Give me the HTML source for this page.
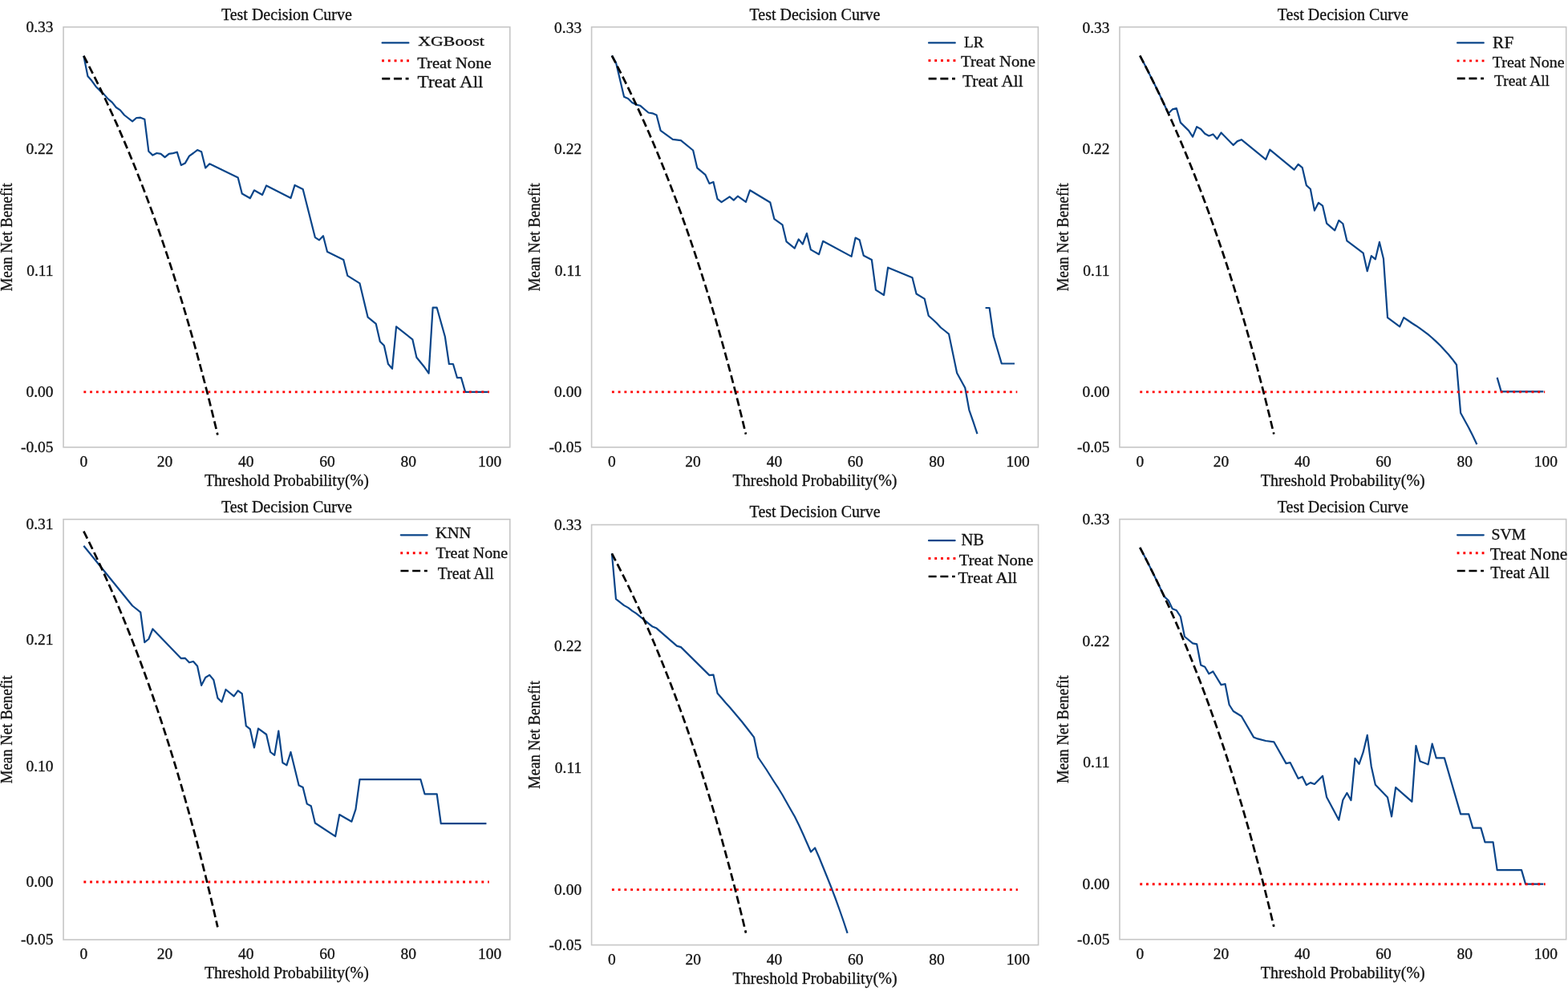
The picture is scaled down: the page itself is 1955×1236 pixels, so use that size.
<!DOCTYPE html>
<html><head><meta charset="utf-8"><title>Test Decision Curves</title>
<style>
html,body{margin:0;padding:0;background:#fff;}
svg{display:block;}
.t{font-family:'Liberation Serif', 'Times New Roman', serif;font-size:20px;fill:#111;stroke:#111;stroke-width:0.3px;}
.l{font-family:'Liberation Serif', 'Times New Roman', serif;fill:#111;stroke:#111;stroke-width:0.3px;}
.tk{font-size:19.5px;}
.bl{fill:none;stroke:#0a4589;stroke-width:2.2;stroke-linejoin:round;}
.rd{stroke:#ff0000;stroke-width:2.9;stroke-dasharray:2.9 4.85;fill:none;}
.bk{fill:none;stroke:#000;stroke-width:2.7;stroke-dasharray:10.0 4.7;}
</style></head>
<body>
<svg width="1955" height="1236" viewBox="0 0 1955 1236">
<rect width="1955" height="1236" fill="#fff"/>
<rect x="79.05" y="33.7" width="556.75" height="524.10" fill="none" stroke="#c6c6c6" stroke-width="1.6"/>
<polyline points="104.36,69.70 109.42,95.00 114.48,100.80 119.54,107.90 124.60,113.10 129.66,117.60 134.72,123.40 139.79,127.60 144.85,134.00 149.91,137.40 154.97,143.50 165.09,151.30 170.15,147.00 175.22,146.70 180.28,148.70 185.34,188.80 190.40,193.60 195.46,191.00 200.52,191.80 205.58,196.20 210.65,191.80 215.71,191.10 220.77,189.70 225.83,206.00 230.89,203.40 235.95,194.60 241.01,191.00 246.07,187.10 251.14,189.20 256.20,209.50 261.26,204.30 296.69,221.40 301.75,241.50 311.87,247.30 316.93,237.30 327.06,243.00 332.12,231.40 362.49,247.10 367.55,230.90 377.67,235.90 392.85,296.10 397.92,299.40 402.98,294.20 408.04,314.00 428.28,323.90 433.35,343.90 448.53,353.40 458.65,395.70 468.77,403.90 473.84,425.90 478.90,431.10 483.96,454.00 489.02,459.80 494.08,407.40 514.33,423.30 519.39,445.80 529.51,458.30 534.57,465.60 539.63,383.70 544.70,383.70 554.82,419.70 559.88,454.00 564.94,454.00 570.00,471.20 575.06,471.20 580.12,488.90 608.47,488.90" class="bl"/>
<line x1="104.36" y1="488.85" x2="610.0" y2="488.85" class="rd"/>
<polyline points="104.36,69.70 109.42,79.40 114.48,89.29 119.54,99.39 124.60,109.69 129.66,120.22 134.72,130.97 139.79,141.95 144.85,153.17 149.91,164.63 154.97,176.35 160.03,188.33 165.09,200.59 170.15,213.13 175.22,225.95 180.28,239.09 185.34,252.53 190.40,266.30 195.46,280.40 200.52,294.85 205.58,309.66 210.65,324.85 215.71,340.43 220.77,356.41 225.83,372.81 230.89,389.65 235.95,406.94 241.01,424.71 246.07,442.97 251.14,461.75 256.20,481.06 261.26,500.94 266.32,521.39 271.38,542.46" class="bk"/>
<text x="66.6" y="40.2" text-anchor="end" class="t tk">0.33</text>
<text x="66.6" y="191.9" text-anchor="end" class="t tk">0.22</text>
<text x="66.6" y="343.6" text-anchor="end" class="t tk">0.11</text>
<text x="66.6" y="495.2" text-anchor="end" class="t tk">0.00</text>
<text x="66.6" y="564.2" text-anchor="end" class="t tk">-0.05</text>
<text x="104.4" y="581.9" text-anchor="middle" class="t tk">0</text>
<text x="205.6" y="581.9" text-anchor="middle" class="t tk">20</text>
<text x="306.8" y="581.9" text-anchor="middle" class="t tk">40</text>
<text x="408.0" y="581.9" text-anchor="middle" class="t tk">60</text>
<text x="509.3" y="581.9" text-anchor="middle" class="t tk">80</text>
<text x="610.5" y="581.9" text-anchor="middle" class="t tk">100</text>
<text x="357.4" y="24.6" text-anchor="middle" class="t">Test Decision Curve</text>
<text x="357.4" y="605.7" text-anchor="middle" class="t">Threshold Probability(%)</text>
<text transform="translate(14.8,295.8) rotate(-90)" text-anchor="middle" class="t" font-size="19" textLength="134.8" lengthAdjust="spacingAndGlyphs">Mean Net Benefit</text>
<line x1="476.60" y1="53.4" x2="509.40" y2="53.4" class="bl" stroke-linecap="round"/>
<line x1="476.10" y1="75.7" x2="510.20" y2="75.7" class="rd"/>
<line x1="476.25" y1="98.1" x2="509.55" y2="98.1" class="bk" stroke-dasharray="10.4 5"/>
<text x="521.3" y="56.6" font-size="16.8" textLength="82.5" lengthAdjust="spacingAndGlyphs" class="l">XGBoost</text>
<text x="520.2" y="84.7" font-size="19.5" textLength="92.4" lengthAdjust="spacingAndGlyphs" class="l">Treat None</text>
<text x="520.6" y="109.1" font-size="21" textLength="81.9" lengthAdjust="spacingAndGlyphs" class="l">Treat All</text>
<rect x="737.6" y="33.7" width="556.80" height="524.10" fill="none" stroke="#c6c6c6" stroke-width="1.6"/>
<polyline points="762.91,69.30 767.97,78.10 778.09,120.80 783.16,123.00 788.22,128.00 793.28,130.60 798.34,131.80 808.47,140.50 813.53,141.30 818.59,143.50 823.65,162.90 838.84,173.90 848.96,175.20 864.15,187.50 869.21,209.30 879.33,217.80 884.39,228.90 889.45,226.90 894.52,248.20 899.58,252.20 909.70,245.40 914.76,249.60 919.83,244.70 929.95,251.80 935.01,237.30 960.32,252.50 965.38,273.20 975.51,280.30 980.57,301.40 990.69,309.70 995.75,298.40 1000.81,304.50 1005.88,291.10 1010.94,311.40 1021.06,317.20 1026.12,300.80 1061.56,319.90 1066.62,296.60 1071.68,299.20 1076.74,318.80 1086.87,324.00 1091.93,361.60 1102.05,368.00 1107.11,333.70 1137.48,346.30 1142.55,366.50 1152.67,372.60 1157.73,393.70 1162.79,398.30 1167.85,403.00 1172.92,408.50 1177.98,412.50 1183.04,416.60 1193.16,465.20 1203.29,483.80 1208.35,511.30 1213.41,525.90 1218.47,541.20" class="bl"/>
<polyline points="1228.60,384.00 1233.66,384.00 1238.72,419.10 1248.84,453.50 1265.04,453.50" class="bl"/>
<line x1="762.91" y1="488.9" x2="1268.3" y2="488.9" class="rd"/>
<polyline points="762.91,69.50 767.97,79.18 773.03,89.06 778.09,99.15 783.16,109.44 788.22,119.95 793.28,130.69 798.34,141.65 803.40,152.86 808.47,164.31 813.53,176.01 818.59,187.98 823.65,200.22 828.71,212.74 833.77,225.55 838.84,238.66 843.90,252.09 848.96,265.84 854.02,279.92 859.08,294.36 864.15,309.15 869.21,324.32 874.27,339.87 879.33,355.84 884.39,372.22 889.45,389.03 894.52,406.31 899.58,424.05 904.64,442.29 909.70,461.04 914.76,480.33 919.83,500.18 924.89,520.61 929.95,541.65" class="bk"/>
<text x="725.2" y="40.6" text-anchor="end" class="t tk">0.33</text>
<text x="725.2" y="192.1" text-anchor="end" class="t tk">0.22</text>
<text x="725.2" y="343.7" text-anchor="end" class="t tk">0.11</text>
<text x="725.2" y="495.3" text-anchor="end" class="t tk">0.00</text>
<text x="725.2" y="564.2" text-anchor="end" class="t tk">-0.05</text>
<text x="762.9" y="581.9" text-anchor="middle" class="t tk">0</text>
<text x="864.1" y="581.9" text-anchor="middle" class="t tk">20</text>
<text x="965.4" y="581.9" text-anchor="middle" class="t tk">40</text>
<text x="1066.6" y="581.9" text-anchor="middle" class="t tk">60</text>
<text x="1167.9" y="581.9" text-anchor="middle" class="t tk">80</text>
<text x="1269.1" y="581.9" text-anchor="middle" class="t tk">100</text>
<text x="1016.0" y="24.6" text-anchor="middle" class="t">Test Decision Curve</text>
<text x="1016.0" y="605.7" text-anchor="middle" class="t">Threshold Probability(%)</text>
<text transform="translate(673.4,295.8) rotate(-90)" text-anchor="middle" class="t" font-size="19" textLength="134.8" lengthAdjust="spacingAndGlyphs">Mean Net Benefit</text>
<line x1="1158.00" y1="53.4" x2="1190.80" y2="53.4" class="bl" stroke-linecap="round"/>
<line x1="1157.50" y1="75.5" x2="1191.60" y2="75.5" class="rd"/>
<line x1="1157.65" y1="98.1" x2="1190.95" y2="98.1" class="bk" stroke-dasharray="10.4 5"/>
<text x="1202.1" y="58.8" font-size="18.0" textLength="24.6" lengthAdjust="spacingAndGlyphs" class="l">LR</text>
<text x="1198.0" y="82.7" font-size="19.4" textLength="92.9" lengthAdjust="spacingAndGlyphs" class="l">Treat None</text>
<text x="1200.0" y="107.7" font-size="20.3" textLength="75.7" lengthAdjust="spacingAndGlyphs" class="l">Treat All</text>
<rect x="1396.0" y="33.7" width="556.70" height="524.10" fill="none" stroke="#c6c6c6" stroke-width="1.6"/>
<polyline points="1421.30,69.40 1426.37,79.08 1431.43,88.96 1436.49,99.04 1441.55,109.34 1446.61,119.85 1451.67,130.58 1456.73,141.55 1461.79,136.40 1466.85,135.10 1471.91,152.90 1482.04,162.90 1487.10,170.70 1492.16,158.10 1497.22,161.00 1502.28,166.80 1507.34,169.40 1512.40,167.40 1517.46,173.30 1522.52,165.50 1537.71,181.00 1542.77,176.10 1547.83,174.20 1578.19,198.80 1583.25,186.60 1613.62,211.70 1618.68,204.90 1623.74,209.10 1628.80,231.10 1633.86,235.70 1638.92,262.60 1643.98,252.80 1649.05,256.60 1654.11,278.60 1664.23,287.40 1669.29,274.90 1674.35,279.00 1679.41,300.40 1699.65,315.60 1704.72,338.20 1709.78,319.20 1714.84,323.30 1719.90,301.90 1724.96,322.70 1730.02,396.10 1745.20,407.40 1750.26,396.10 1755.32,399.50 1760.39,403.00 1765.45,406.20 1770.51,409.70 1775.57,413.30 1780.63,417.20 1785.69,421.50 1790.75,426.10 1795.81,431.00 1800.87,436.40 1805.93,442.00 1810.99,448.20 1816.06,455.00 1821.12,515.00 1826.18,524.30 1831.24,533.50 1836.30,543.50 1841.36,554.30" class="bl"/>
<polyline points="1866.66,470.90 1871.73,488.40 1924.36,488.40" class="bl"/>
<line x1="1421.30" y1="488.9" x2="1926.2" y2="488.9" class="rd"/>
<polyline points="1421.30,69.40 1426.37,79.08 1431.43,88.96 1436.49,99.04 1441.55,109.34 1446.61,119.85 1451.67,130.58 1456.73,141.55 1461.79,152.75 1466.85,164.20 1471.91,175.90 1476.97,187.87 1482.04,200.10 1487.10,212.62 1492.16,225.43 1497.22,238.55 1502.28,251.97 1507.34,265.72 1512.40,279.80 1517.46,294.23 1522.52,309.02 1527.58,324.19 1532.64,339.75 1537.71,355.71 1542.77,372.08 1547.83,388.90 1552.89,406.17 1557.95,423.91 1563.01,442.15 1568.07,460.90 1573.13,480.19 1578.19,500.03 1583.25,520.46 1588.31,541.50" class="bk"/>
<text x="1383.6" y="40.6" text-anchor="end" class="t tk">0.33</text>
<text x="1383.6" y="192.1" text-anchor="end" class="t tk">0.22</text>
<text x="1383.6" y="343.7" text-anchor="end" class="t tk">0.11</text>
<text x="1383.6" y="495.3" text-anchor="end" class="t tk">0.00</text>
<text x="1383.6" y="564.2" text-anchor="end" class="t tk">-0.05</text>
<text x="1421.3" y="581.9" text-anchor="middle" class="t tk">0</text>
<text x="1522.5" y="581.9" text-anchor="middle" class="t tk">20</text>
<text x="1623.7" y="581.9" text-anchor="middle" class="t tk">40</text>
<text x="1725.0" y="581.9" text-anchor="middle" class="t tk">60</text>
<text x="1826.2" y="581.9" text-anchor="middle" class="t tk">80</text>
<text x="1927.4" y="581.9" text-anchor="middle" class="t tk">100</text>
<text x="1674.3" y="24.6" text-anchor="middle" class="t">Test Decision Curve</text>
<text x="1674.3" y="605.7" text-anchor="middle" class="t">Threshold Probability(%)</text>
<text transform="translate(1331.8,295.8) rotate(-90)" text-anchor="middle" class="t" font-size="19" textLength="134.8" lengthAdjust="spacingAndGlyphs">Mean Net Benefit</text>
<line x1="1817.10" y1="53.4" x2="1849.80" y2="53.4" class="bl" stroke-linecap="round"/>
<line x1="1816.60" y1="75.9" x2="1850.60" y2="75.9" class="rd"/>
<line x1="1816.75" y1="97.9" x2="1849.95" y2="97.9" class="bk" stroke-dasharray="10.4 5"/>
<text x="1861.1" y="59.5" font-size="20.0" textLength="26.2" lengthAdjust="spacingAndGlyphs" class="l">RF</text>
<text x="1860.7" y="83.8" font-size="19.1" textLength="89.9" lengthAdjust="spacingAndGlyphs" class="l">Treat None</text>
<text x="1863.0" y="106.7" font-size="19.2" textLength="69.0" lengthAdjust="spacingAndGlyphs" class="l">Treat All</text>
<rect x="79.05" y="647.7" width="556.75" height="524.30" fill="none" stroke="#c6c6c6" stroke-width="1.6"/>
<polyline points="104.36,680.70 165.09,755.50 175.22,763.60 180.28,801.10 185.34,797.00 190.40,784.50 225.83,821.20 230.89,820.90 235.95,826.30 241.01,825.00 246.07,830.70 251.14,854.80 256.20,845.00 261.26,841.90 266.32,848.00 271.38,870.60 276.44,875.50 281.50,860.00 291.63,868.30 296.69,861.30 301.75,865.20 306.81,905.30 311.87,909.40 316.93,932.50 322.00,908.70 332.12,916.00 337.18,938.00 342.24,941.90 347.30,911.70 352.36,951.20 357.43,954.40 362.49,938.00 372.61,979.40 377.67,982.00 382.73,1002.60 387.79,1005.30 392.85,1026.50 418.16,1043.10 423.22,1016.00 438.41,1024.70 443.47,1009.40 448.53,972.20 524.45,972.20 529.51,990.30 544.70,990.30 549.76,1027.10 606.44,1027.10" class="bl"/>
<line x1="104.36" y1="1100.0" x2="609.8" y2="1100.0" class="rd"/>
<polyline points="104.36,662.60 109.42,672.73 114.48,683.06 119.54,693.61 124.60,704.38 129.66,715.37 134.72,726.60 139.79,738.06 144.85,749.78 149.91,761.76 154.97,774.00 160.03,786.52 165.09,799.32 170.15,812.41 175.22,825.81 180.28,839.53 185.34,853.57 190.40,867.95 195.46,882.68 200.52,897.78 205.58,913.25 210.65,929.11 215.71,945.38 220.77,962.08 225.83,979.21 230.89,996.80 235.95,1014.86 241.01,1033.42 246.07,1052.50 251.14,1072.11 256.20,1092.29 261.26,1113.04 266.32,1134.41 271.38,1156.42" class="bk"/>
<text x="66.6" y="660.0" text-anchor="end" class="t tk">0.31</text>
<text x="66.6" y="804.0" text-anchor="end" class="t tk">0.21</text>
<text x="66.6" y="962.4" text-anchor="end" class="t tk">0.10</text>
<text x="66.6" y="1106.4" text-anchor="end" class="t tk">0.00</text>
<text x="66.6" y="1178.4" text-anchor="end" class="t tk">-0.05</text>
<text x="104.4" y="1196.1" text-anchor="middle" class="t tk">0</text>
<text x="205.6" y="1196.1" text-anchor="middle" class="t tk">20</text>
<text x="306.8" y="1196.1" text-anchor="middle" class="t tk">40</text>
<text x="408.0" y="1196.1" text-anchor="middle" class="t tk">60</text>
<text x="509.3" y="1196.1" text-anchor="middle" class="t tk">80</text>
<text x="610.5" y="1196.1" text-anchor="middle" class="t tk">100</text>
<text x="357.4" y="638.6" text-anchor="middle" class="t">Test Decision Curve</text>
<text x="357.4" y="1219.9" text-anchor="middle" class="t">Threshold Probability(%)</text>
<text transform="translate(14.8,909.9) rotate(-90)" text-anchor="middle" class="t" font-size="19" textLength="134.8" lengthAdjust="spacingAndGlyphs">Mean Net Benefit</text>
<line x1="499.80" y1="667.3" x2="532.70" y2="667.3" class="bl" stroke-linecap="round"/>
<line x1="499.30" y1="689.7" x2="533.50" y2="689.7" class="rd"/>
<line x1="499.45" y1="712.0" x2="532.85" y2="712.0" class="bk" stroke-dasharray="10.4 5"/>
<text x="543.1" y="671.3" font-size="19.7" textLength="44.3" lengthAdjust="spacingAndGlyphs" class="l">KNN</text>
<text x="543.5" y="696.3" font-size="19.1" textLength="89.5" lengthAdjust="spacingAndGlyphs" class="l">Treat None</text>
<text x="545.8" y="721.6" font-size="20.4" textLength="69.9" lengthAdjust="spacingAndGlyphs" class="l">Treat All</text>
<rect x="737.6" y="654.5" width="557.00" height="524.10" fill="none" stroke="#c6c6c6" stroke-width="1.6"/>
<polyline points="762.92,690.40 767.98,747.10 778.11,755.10 783.17,757.90 788.24,761.80 793.30,765.20 813.55,781.60 818.62,783.60 843.94,805.60 849.00,807.10 884.45,842.10 889.51,841.70 894.57,864.70 899.64,870.50 904.70,876.50 909.76,882.00 914.83,888.00 919.89,894.00 924.95,900.00 930.02,906.50 935.08,913.00 940.15,919.70 945.21,944.50 950.27,952.00 955.34,959.50 960.40,967.50 965.46,975.50 970.53,983.20 975.59,991.50 980.65,1000.50 985.72,1009.50 990.78,1018.30 995.85,1028.50 1000.91,1039.50 1005.97,1051.00 1011.04,1062.50 1016.10,1057.50 1021.16,1069.00 1026.23,1081.50 1031.29,1094.00 1036.35,1106.70 1041.42,1120.00 1046.48,1134.00 1051.55,1148.50 1056.61,1163.90" class="bl"/>
<line x1="762.92" y1="1109.6" x2="1268.9" y2="1109.6" class="rd"/>
<polyline points="762.92,690.40 767.98,700.11 773.05,710.01 778.11,720.12 783.17,730.43 788.24,740.97 793.30,751.73 798.36,762.72 803.43,773.95 808.49,785.42 813.55,797.16 818.62,809.15 823.68,821.42 828.75,833.97 833.81,846.81 838.87,859.95 843.94,873.41 849.00,887.19 854.06,901.31 859.13,915.77 864.19,930.60 869.25,945.80 874.32,961.39 879.38,977.39 884.45,993.81 889.51,1010.67 894.57,1027.98 899.64,1045.76 904.70,1064.04 909.76,1082.84 914.83,1102.17 919.89,1122.06 924.95,1142.54 930.02,1163.63" class="bk"/>
<text x="725.2" y="660.6" text-anchor="end" class="t tk">0.33</text>
<text x="725.2" y="812.4" text-anchor="end" class="t tk">0.22</text>
<text x="725.2" y="964.2" text-anchor="end" class="t tk">0.11</text>
<text x="725.2" y="1116.0" text-anchor="end" class="t tk">0.00</text>
<text x="725.2" y="1185.0" text-anchor="end" class="t tk">-0.05</text>
<text x="762.9" y="1202.7" text-anchor="middle" class="t tk">0</text>
<text x="864.2" y="1202.7" text-anchor="middle" class="t tk">20</text>
<text x="965.5" y="1202.7" text-anchor="middle" class="t tk">40</text>
<text x="1066.7" y="1202.7" text-anchor="middle" class="t tk">60</text>
<text x="1168.0" y="1202.7" text-anchor="middle" class="t tk">80</text>
<text x="1269.3" y="1202.7" text-anchor="middle" class="t tk">100</text>
<text x="1016.1" y="645.4" text-anchor="middle" class="t">Test Decision Curve</text>
<text x="1016.1" y="1226.5" text-anchor="middle" class="t">Threshold Probability(%)</text>
<text transform="translate(673.4,916.5) rotate(-90)" text-anchor="middle" class="t" font-size="19" textLength="134.8" lengthAdjust="spacingAndGlyphs">Mean Net Benefit</text>
<line x1="1158.00" y1="674.2" x2="1190.60" y2="674.2" class="bl" stroke-linecap="round"/>
<line x1="1157.50" y1="696.5" x2="1191.40" y2="696.5" class="rd"/>
<line x1="1157.65" y1="719.0" x2="1190.75" y2="719.0" class="bk" stroke-dasharray="10.4 5"/>
<text x="1198.5" y="680.3" font-size="20.0" textLength="28.6" lengthAdjust="spacingAndGlyphs" class="l">NB</text>
<text x="1195.8" y="704.8" font-size="19.4" textLength="92.5" lengthAdjust="spacingAndGlyphs" class="l">Treat None</text>
<text x="1194.4" y="727.4" font-size="19.2" textLength="73.7" lengthAdjust="spacingAndGlyphs" class="l">Treat All</text>
<rect x="1396.0" y="647.6" width="556.70" height="524.10" fill="none" stroke="#c6c6c6" stroke-width="1.6"/>
<polyline points="1421.30,682.90 1426.37,692.60 1431.43,702.50 1436.49,712.60 1441.55,722.91 1446.61,733.44 1451.67,744.19 1456.73,748.70 1461.79,759.30 1466.85,761.30 1471.91,769.00 1476.97,794.00 1487.10,802.30 1492.16,803.30 1497.22,829.50 1502.28,831.70 1507.34,840.40 1512.40,837.50 1522.52,854.10 1527.58,853.10 1532.64,879.00 1537.71,887.00 1547.83,893.20 1563.01,919.40 1568.07,921.40 1578.19,924.00 1588.31,925.30 1603.50,952.10 1608.56,951.10 1618.68,970.90 1623.74,968.70 1628.80,979.10 1633.86,976.10 1638.92,978.00 1649.05,967.70 1654.11,994.20 1669.29,1022.70 1674.35,997.70 1679.41,989.00 1684.47,998.10 1689.53,945.90 1694.59,952.80 1699.65,938.20 1704.72,916.90 1709.78,956.00 1714.84,978.70 1730.02,994.60 1735.08,1018.40 1740.14,982.20 1760.39,999.80 1765.45,930.00 1770.51,949.40 1780.63,953.40 1785.69,927.70 1790.75,945.40 1800.87,945.40 1821.12,1015.40 1831.24,1015.40 1836.30,1032.60 1846.42,1032.60 1851.48,1050.40 1861.60,1050.40 1866.66,1085.10 1897.03,1085.10 1902.09,1102.60 1924.36,1102.60" class="bl"/>
<line x1="1421.30" y1="1102.7" x2="1926.7" y2="1102.7" class="rd"/>
<polyline points="1421.30,682.90 1426.37,692.60 1431.43,702.50 1436.49,712.60 1441.55,722.91 1446.61,733.44 1451.67,744.19 1456.73,755.17 1461.79,766.40 1466.85,777.86 1471.91,789.59 1476.97,801.58 1482.04,813.84 1487.10,826.38 1492.16,839.21 1497.22,852.35 1502.28,865.80 1507.34,879.57 1512.40,893.68 1517.46,908.13 1522.52,922.95 1527.58,938.14 1532.64,953.73 1537.71,969.71 1542.77,986.12 1547.83,1002.97 1552.89,1020.27 1557.95,1038.04 1563.01,1056.31 1568.07,1075.09 1573.13,1094.41 1578.19,1114.29 1583.25,1134.76 1588.31,1155.83" class="bk"/>
<text x="1383.6" y="653.7" text-anchor="end" class="t tk">0.33</text>
<text x="1383.6" y="805.5" text-anchor="end" class="t tk">0.22</text>
<text x="1383.6" y="957.3" text-anchor="end" class="t tk">0.11</text>
<text x="1383.6" y="1109.1" text-anchor="end" class="t tk">0.00</text>
<text x="1383.6" y="1178.1" text-anchor="end" class="t tk">-0.05</text>
<text x="1421.3" y="1195.8" text-anchor="middle" class="t tk">0</text>
<text x="1522.5" y="1195.8" text-anchor="middle" class="t tk">20</text>
<text x="1623.7" y="1195.8" text-anchor="middle" class="t tk">40</text>
<text x="1725.0" y="1195.8" text-anchor="middle" class="t tk">60</text>
<text x="1826.2" y="1195.8" text-anchor="middle" class="t tk">80</text>
<text x="1927.4" y="1195.8" text-anchor="middle" class="t tk">100</text>
<text x="1674.3" y="638.5" text-anchor="middle" class="t">Test Decision Curve</text>
<text x="1674.3" y="1219.6" text-anchor="middle" class="t">Threshold Probability(%)</text>
<text transform="translate(1331.8,909.7) rotate(-90)" text-anchor="middle" class="t" font-size="19" textLength="134.8" lengthAdjust="spacingAndGlyphs">Mean Net Benefit</text>
<line x1="1817.10" y1="667.3" x2="1849.80" y2="667.3" class="bl" stroke-linecap="round"/>
<line x1="1816.60" y1="689.7" x2="1850.60" y2="689.7" class="rd"/>
<line x1="1816.75" y1="712.0" x2="1849.95" y2="712.0" class="bk" stroke-dasharray="10.4 5"/>
<text x="1859.5" y="672.8" font-size="19.5" textLength="42.8" lengthAdjust="spacingAndGlyphs" class="l">SVM</text>
<text x="1857.8" y="697.7" font-size="20.6" textLength="96.6" lengthAdjust="spacingAndGlyphs" class="l">Treat None</text>
<text x="1858.3" y="721.3" font-size="20.0" textLength="73.7" lengthAdjust="spacingAndGlyphs" class="l">Treat All</text>
</svg>
</body></html>
